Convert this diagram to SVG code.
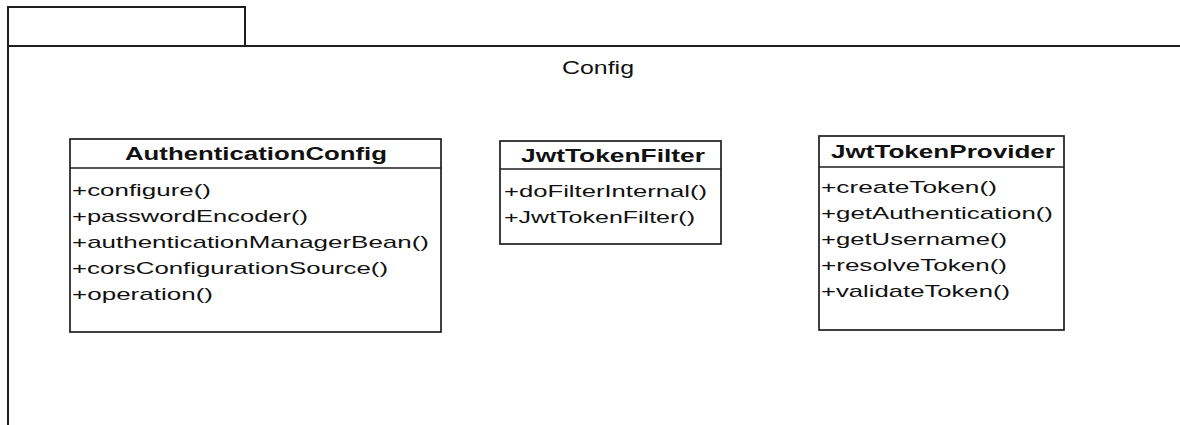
<svg xmlns="http://www.w3.org/2000/svg" width="1180" height="425" viewBox="0 0 1180 425">
  <style>
    .frame { fill: none; stroke: #1e1e1e; stroke-width: 2; }
    .box { fill: #fff; stroke: #1e1e1e; stroke-width: 1.7; }
    .sep { stroke: #1e1e1e; stroke-width: 1.7; }
    .title { font-family: "Liberation Sans", Arial, sans-serif; font-size: 18px; font-weight: bold; fill: #111; }
    .op { font-family: "Liberation Sans", Arial, sans-serif; font-size: 17px; fill: #111; }
    .pkg { font-family: "Liberation Sans", Arial, sans-serif; font-size: 18px; fill: #111; }
  </style>
  <rect width="1180" height="425" fill="#fff"/>

  <!-- Package "Config" -->
  <g id="package-config">
    <rect class="frame" x="8" y="7" width="237" height="39"/>
    <path class="frame" d="M8 46 H1180 M8 46 V425"/>
    <text class="pkg" x="598" y="74" text-anchor="middle" textLength="72" lengthAdjust="spacingAndGlyphs">Config</text>
  </g>

  <!-- Class: AuthenticationConfig -->
  <g id="authentication-config">
    <rect class="box" x="70" y="139" width="371" height="193"/>
    <line class="sep" x1="70" y1="168" x2="441" y2="168"/>
    <text class="title" x="256" y="160" text-anchor="middle" textLength="262" lengthAdjust="spacingAndGlyphs">AuthenticationConfig</text>
    <text class="op" x="72" y="196" textLength="139" lengthAdjust="spacingAndGlyphs">+configure()</text>
    <text class="op" x="72" y="222" textLength="236" lengthAdjust="spacingAndGlyphs">+passwordEncoder()</text>
    <text class="op" x="72" y="248" textLength="357" lengthAdjust="spacingAndGlyphs">+authenticationManagerBean()</text>
    <text class="op" x="72" y="274" textLength="316" lengthAdjust="spacingAndGlyphs">+corsConfigurationSource()</text>
    <text class="op" x="72" y="300" textLength="141" lengthAdjust="spacingAndGlyphs">+operation()</text>
  </g>

  <!-- Class: JwtTokenFilter -->
  <g id="jwt-token-filter">
    <rect class="box" x="500" y="141" width="221" height="103"/>
    <line class="sep" x1="500" y1="169" x2="721" y2="169"/>
    <text class="title" x="613" y="162" text-anchor="middle" textLength="184" lengthAdjust="spacingAndGlyphs">JwtTokenFilter</text>
    <text class="op" x="504" y="197" textLength="203" lengthAdjust="spacingAndGlyphs">+doFilterInternal()</text>
    <text class="op" x="504" y="223" textLength="191" lengthAdjust="spacingAndGlyphs">+JwtTokenFilter()</text>
  </g>

  <!-- Class: JwtTokenProvider -->
  <g id="jwt-token-provider">
    <rect class="box" x="819" y="136" width="245" height="194"/>
    <line class="sep" x1="819" y1="167" x2="1064" y2="167"/>
    <text class="title" x="943" y="158" text-anchor="middle" textLength="224" lengthAdjust="spacingAndGlyphs">JwtTokenProvider</text>
    <text class="op" x="821" y="193" textLength="176" lengthAdjust="spacingAndGlyphs">+createToken()</text>
    <text class="op" x="821" y="219" textLength="232" lengthAdjust="spacingAndGlyphs">+getAuthentication()</text>
    <text class="op" x="821" y="245" textLength="186" lengthAdjust="spacingAndGlyphs">+getUsername()</text>
    <text class="op" x="821" y="271" textLength="186" lengthAdjust="spacingAndGlyphs">+resolveToken()</text>
    <text class="op" x="821" y="297" textLength="189" lengthAdjust="spacingAndGlyphs">+validateToken()</text>
  </g>

  <!-- No connectors between these classes -->
  <g id="connectors"/>
</svg>
